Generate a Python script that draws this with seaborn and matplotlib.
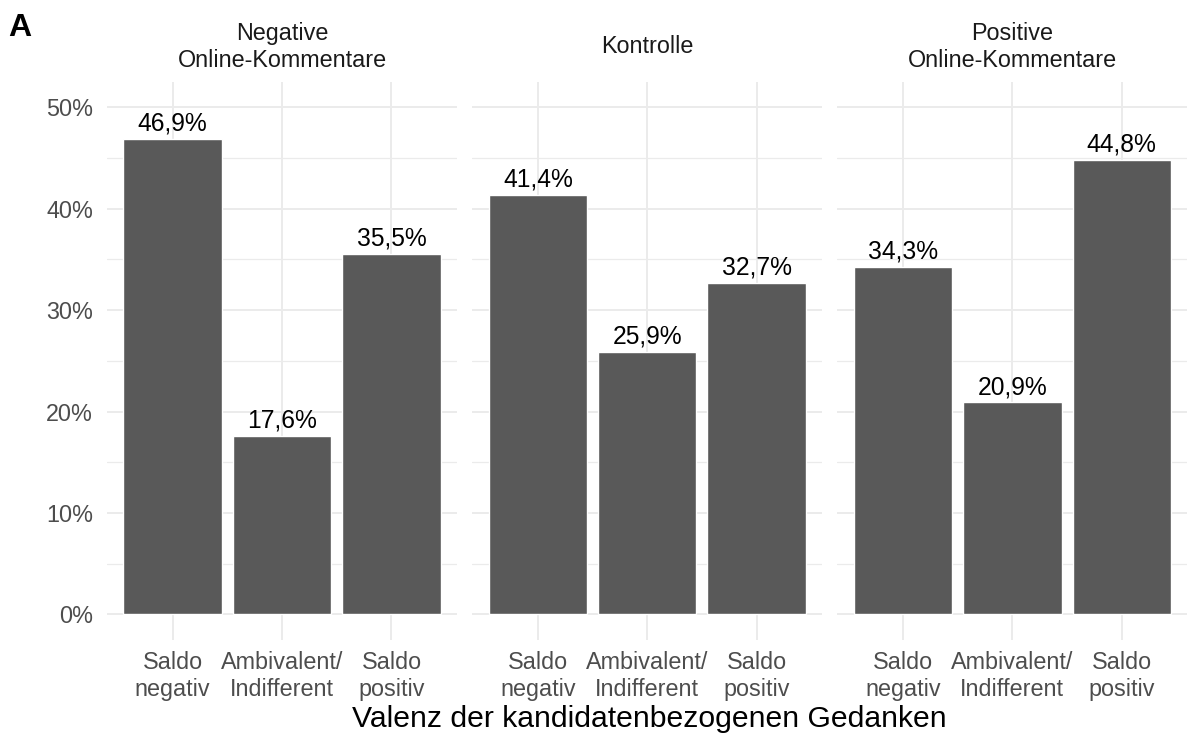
import pandas as pd
import matplotlib.pyplot as plt
import seaborn as sns
from matplotlib.ticker import MultipleLocator, FuncFormatter

# Daten
bedingungen = ['Negative\nOnline-Kommentare', 'Kontrolle', 'Positive\nOnline-Kommentare']
kategorien = ['Saldo\nnegativ', 'Ambivalent/\nIndifferent', 'Saldo\npositiv']
werte_negativ = [46.9, 17.6, 35.5]
werte_kontrolle = [41.4, 25.9, 32.7]
werte_positiv = [34.3, 20.9, 44.8]

df = pd.DataFrame({
    'Bedingung': [b for b in bedingungen for _ in kategorien],
    'Valenz': kategorien * 3,
    'Anteil': werte_negativ + werte_kontrolle + werte_positiv,
})

sns.set_theme(style='white')
plt.rcParams['font.family'] = ['Liberation Sans', 'DejaVu Sans']

fig, axes = plt.subplots(1, 3, figsize=(11.88, 7.38), dpi=100, sharey=True)
fig.subplots_adjust(left=0.0901, right=0.9995, bottom=0.133, top=0.889, wspace=0.043)

grid_col = '#ebebeb'
for ax, bed in zip(axes, bedingungen):
    sub = df[df['Bedingung'] == bed]
    sns.barplot(data=sub, x='Valenz', y='Anteil', ax=ax, color='#595959',
                saturation=1, width=0.9, order=kategorien, zorder=3)
    ax.set_xlim(-0.6, 2.6)
    ax.set_ylim(-2.5, 52.5)
    ax.yaxis.set_major_locator(MultipleLocator(10))
    ax.yaxis.set_minor_locator(MultipleLocator(5))
    ax.yaxis.set_major_formatter(FuncFormatter(lambda v, p: f'{v:.0f}%'))
    ax.grid(which='major', axis='both', color=grid_col, linewidth=1.4, zorder=0)
    ax.grid(which='minor', axis='y', color=grid_col, linewidth=0.9, zorder=0)
    ax.set_axisbelow(True)
    for s in ax.spines.values():
        s.set_visible(False)
    ax.tick_params(axis='both', which='both', length=0, labelsize=16.8, labelcolor='#4d4d4d')
    ax.tick_params(axis='x', pad=8)
    ax.tick_params(axis='y', pad=10)
    for t in ax.get_xticklabels():
        t.set_linespacing(1.25)
    ax.set_xlabel('')
    ax.set_ylabel('')
    labels = [f'{v:.1f}%'.replace('.', ',') for v in sub['Anteil']]
    ax.bar_label(ax.containers[0], labels=labels, padding=2.5, fontsize=17.7, color='black')
    ax.text(0.5, 1.063, bed, transform=ax.transAxes, ha='center', va='center',
            fontsize=16.8, color='#1a1a1a', linespacing=1.25)

fig.text(0.5467, 0.007, 'Valenz der kandidatenbezogenen Gedanken', ha='center', va='bottom',
         fontsize=21.7, color='black')
fig.text(0.007, 0.982, 'A', ha='left', va='top', fontsize=23, fontweight='bold', color='black')

plt.savefig('out.png', dpi=100)
